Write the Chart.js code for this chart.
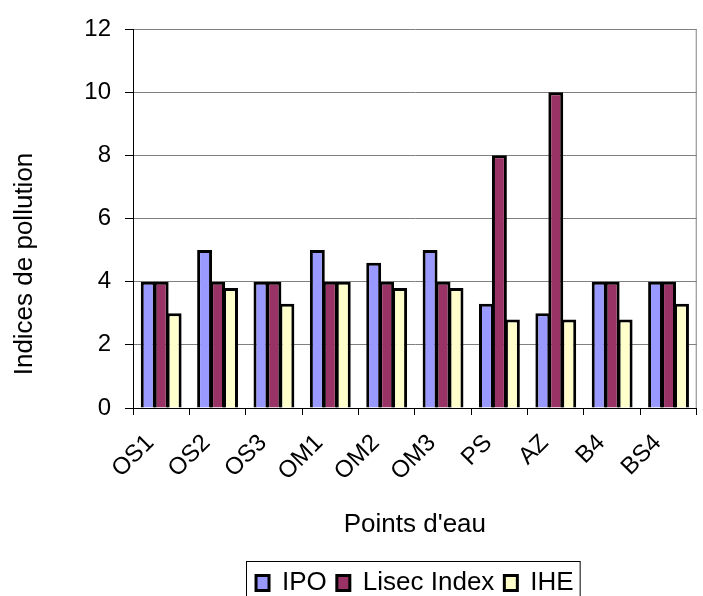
<!DOCTYPE html>
<html>
<head>
<meta charset="utf-8">
<script src="https://cdn.jsdelivr.net/npm/chart.js@4.4.1/dist/chart.umd.min.js"></script>
<style>
  html, body { margin: 0; padding: 0; background: #fff; }
  #wrap { width: 703px; height: 596px; position: relative; }
</style>
</head>
<body>
<div id="wrap"><canvas id="pollutionChart"></canvas></div>
<script>
// Points d'eau et indices
const categories = ['OS1', 'OS2', 'OS3', 'OM1', 'OM2', 'OM3', 'PS', 'AZ', 'B4', 'BS4'];
const ipoValues = [4, 5, 4, 5, 4.6, 5, 3.3, 3, 4, 4];
const lisecValues = [4, 4, 4, 4, 4, 4, 8, 10, 4, 4];
const iheValues = [3, 3.8, 3.3, 4, 3.8, 3.8, 2.8, 2.8, 2.8, 3.3];
const yTicks = [0, 2, 4, 6, 8, 10, 12];

const FONT = 'Liberation Sans, Arial, sans-serif';

// Kehys oikealle, legendan laatikko ja y-akselin otsikko
const framePlugin = {
  id: 'frame',
  afterDraw(chart) {
    const { ctx, chartArea: a } = chart;
    ctx.save();
    ctx.strokeStyle = '#808080';
    ctx.lineWidth = 1;
    ctx.beginPath();
    ctx.moveTo(a.right - 0.5, a.top);
    ctx.lineTo(a.right - 0.5, a.bottom);
    ctx.stroke();

    const boxes = chart.legend.legendHitBoxes;
    if (boxes && boxes.length) {
      const left = Math.min(...boxes.map(b => b.left)) - 10;
      const right = Math.max(...boxes.map(b => b.left + b.width)) + 6;
      const top = boxes[0].top - 9;
      ctx.strokeStyle = '#000';
      ctx.lineWidth = 1;
      ctx.strokeRect(Math.round(left) + 0.5, Math.round(top) + 0.5, right - left, 80);
    }

    ctx.fillStyle = '#000';
    ctx.font = '26px ' + FONT;
    ctx.textAlign = 'center';
    ctx.textBaseline = 'middle';
    ctx.translate(25, 264);
    ctx.rotate(-Math.PI / 2);
    ctx.fillText('Indices de pollution', 0, 0);
    ctx.restore();
  }
};

const barCommon = {
  borderColor: '#000',
  borderWidth: 3,
  barPercentage: 1.15,
  categoryPercentage: 0.69
};

new Chart(document.getElementById('pollutionChart'), {
  type: 'bar',
  data: {
    labels: categories,
    datasets: [
      { label: 'IPO', data: ipoValues, backgroundColor: '#9999FF', ...barCommon },
      { label: 'Lisec Index', data: lisecValues, backgroundColor: '#993366', ...barCommon },
      { label: 'IHE', data: iheValues, backgroundColor: '#FFFFCC', ...barCommon }
    ]
  },
  options: {
    responsive: true,
    maintainAspectRatio: false,
    animation: false,
    layout: { padding: { top: 29, right: 2, left: 0, bottom: -10 } },
    plugins: {
      tooltip: { enabled: false },
      legend: {
        position: 'bottom',
        fullSize: false,
        labels: {
          color: '#000',
          font: { family: FONT, size: 26 },
          boxWidth: 13,
          boxHeight: 15,
          padding: 10
        }
      }
    },
    scales: {
      x: {
        grid: {
          drawOnChartArea: false,
          color: '#000',
          tickLength: 7,
          offset: true
        },
        border: { color: '#000', width: 1 },
        ticks: {
          color: '#000',
          font: { family: FONT, size: 24 },
          minRotation: 45,
          maxRotation: 45,
          padding: 14,
          labelOffset: -11
        },
        title: {
          display: true,
          text: "Points d'eau",
          color: '#000',
          font: { family: FONT, size: 26 },
          padding: { top: 0, bottom: 20 }
        },
        afterFit(scale) { scale.height = 152; }
      },
      y: {
        min: 0,
        max: 12,
        afterBuildTicks(scale) { scale.ticks = yTicks.map(v => ({ value: v })); },
        grid: {
          color: '#808080',
          tickColor: '#000',
          tickLength: 8
        },
        border: { color: '#000', width: 1 },
        ticks: {
          color: '#000',
          font: { family: FONT, size: 24 },
          padding: 14
        },
        afterFit(scale) { scale.width = 133; }
      }
    }
  },
  plugins: [framePlugin]
});
</script>
</body>
</html>
